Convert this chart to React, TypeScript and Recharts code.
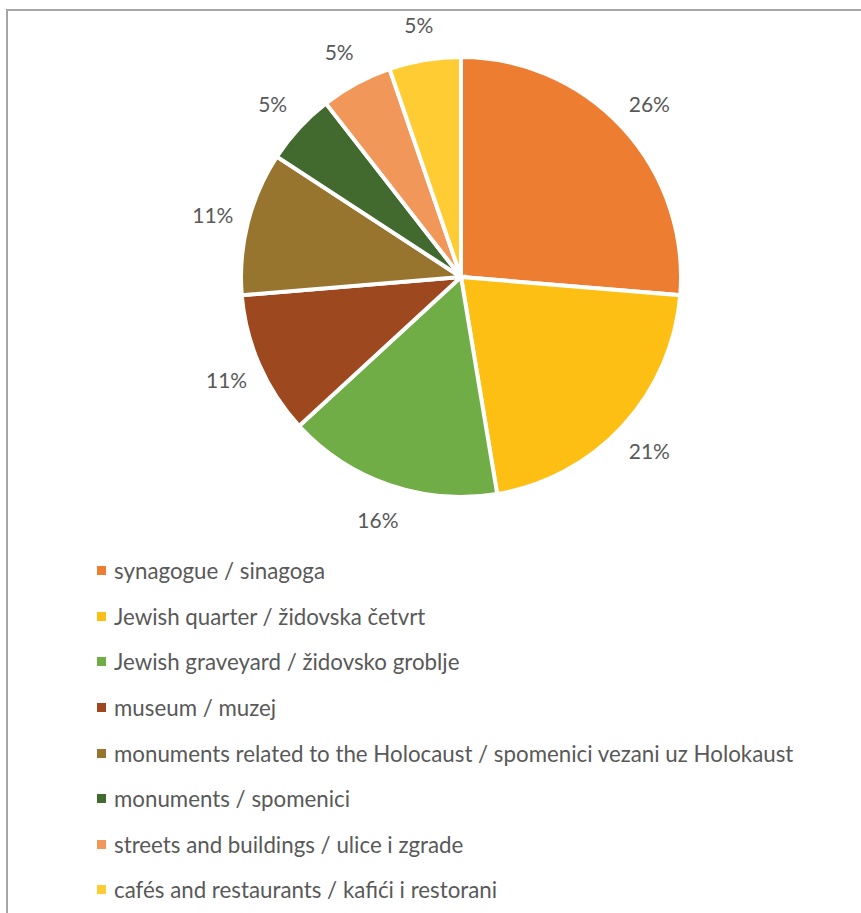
import React from "react";
import { PieChart, Pie, Cell, Legend } from "recharts";

const categories = [
  "synagogue / sinagoga",
  "Jewish quarter / židovska četvrt",
  "Jewish graveyard / židovsko groblje",
  "museum / muzej",
  "monuments related to the Holocaust / spomenici vezani uz Holokaust",
  "monuments / spomenici",
  "streets and buildings / ulice i zgrade",
  "cafés and restaurants / kafići i restorani",
];
const counts = [5, 4, 3, 2, 2, 1, 1, 1];
const colors = ["#ED7D31", "#FDBF13", "#70AD47", "#9E4820", "#98752E", "#436A2E", "#F1975A", "#FFCD33"];

const data = categories.map((name, i) => ({ name, value: counts[i] }));

const FONT = "Lato, 'Open Sans', sans-serif";
const RAD = Math.PI / 180;

const renderLabel = (p: any) => {
  const r = p.outerRadius + 36;
  const x = p.cx + r * Math.cos(-p.midAngle * RAD);
  const y = p.cy + r * Math.sin(-p.midAngle * RAD);
  return (
    <text x={x} y={y} textAnchor="middle" dominantBaseline="central" fill="#595959" fontSize={21} fontFamily={FONT}>
      {Math.round(p.percent * 100) + "%"}
    </text>
  );
};

const renderLegend = (props: any) => {
  const payload = [...(props.payload || [])].sort(
    (a: any, b: any) => categories.indexOf(a.value) - categories.indexOf(b.value)
  );
  return (
    <div style={{ fontFamily: FONT, fontSize: 22.3, color: "#595959" }}>
      {payload.map((e: any, i: number) => (
        <div key={i} style={{ height: 45.6, display: "flex", alignItems: "center", whiteSpace: "nowrap" }}>
          <span style={{ display: "inline-block", width: 9, height: 9, background: e.color, marginRight: 8 }} />
          <span>{e.value}</span>
        </div>
      ))}
    </div>
  );
};

export default function App() {
  return (
    <div style={{ position: "absolute", left: 0, top: 0, width: 861, height: 913, background: "#fff", overflow: "hidden" }}>
      <div style={{ position: "absolute", left: 6, top: 9, width: 900, height: 950, borderTop: "2px solid #a6a6a6", borderLeft: "2px solid #a6a6a6" }} />
      <div style={{ position: "absolute", left: 0, top: 0 }}>
        <PieChart width={861} height={913} margin={{ top: 0, right: 0, bottom: 0, left: 0 }}>
          <Pie
            data={data}
            dataKey="value"
            nameKey="name"
            cx={461}
            cy={277}
            outerRadius={220}
            startAngle={90}
            endAngle={-270}
            stroke="#ffffff"
            strokeWidth={4}
            label={renderLabel}
            labelLine={false}
            isAnimationActive={false}
          >
            {data.map((d, i) => (
              <Cell key={d.name} fill={colors[i]} />
            ))}
          </Pie>
          <Legend
            layout="vertical"
            verticalAlign="middle"
            align="center"
            content={renderLegend}
            wrapperStyle={{ position: "absolute", left: 97, top: 548, width: 760 }}
          />
        </PieChart>
      </div>
    </div>
  );
}
